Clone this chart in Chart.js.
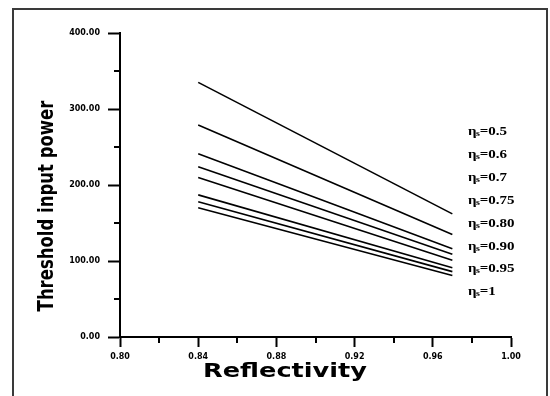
<!DOCTYPE html>
<html>
<head>
<meta charset="utf-8">
<script src="https://cdn.jsdelivr.net/npm/chart.js@4"></script>
<style>
  html, body { margin: 0; padding: 0; background: #fff; }
  #wrap { position: relative; width: 550px; height: 396px; overflow: hidden; }
  #frame {
    position: absolute; left: 12px; top: 8px; width: 536px; height: 400px;
    border: 2px solid #3a3a3a; box-sizing: border-box;
  }
  canvas { position: absolute; left: 0; top: 0; }
</style>
</head>
<body>
<div id="wrap">
  <div id="frame"></div>
  <canvas id="chart" width="550" height="396"></canvas>
</div>
<script>
// 📊 DATA
const reflectivity = [0.84, 0.97];
const etaLabels = ["0.5", "0.6", "0.7", "0.75", "0.80", "0.90", "0.95", "1"];

const power05 = [335, 162];
const power06 = [279, 135];
const power07 = [241, 116];
const power075 = [224, 109];
const power080 = [210, 101];
const power090 = [187, 91];
const power095 = [178, 86];
const power1 = [170, 81];

const allSeries = [power05, power06, power07, power075, power080, power090, power095, power1];

const yTicks = [0, 100, 200, 300, 400];
const xTicks = [0.80, 0.84, 0.88, 0.92, 0.96, 1.00];

const X_TITLE = "Reflectivity";
const Y_TITLE = "Threshold input power";

// ⚙️ helpers
function isMajorY(v) {
    return yTicks.includes(v);
}
function isMajorX(v) {
    return xTicks.some(t => Math.abs(t - v) < 1e-6);
}

function makeLine(values, i) {
    return {
        label: "ηs=" + etaLabels[i],
        data: values.map((v, k) => ({ x: reflectivity[k], y: v })),
        borderColor: "#000",
        borderWidth: 1.6,
        pointRadius: 0,
        tension: 0,
        fill: false
    };
}

// 🖊️ stretched text (reference is horizontally stretched)
function stretchedText(ctx, text, x, y, font, sx, align) {
    ctx.save();
    ctx.translate(x, y);
    ctx.scale(sx, 1);
    ctx.font = font;
    ctx.textAlign = align || "center";
    ctx.textBaseline = "middle";
    ctx.fillStyle = "#000";
    ctx.fillText(text, 0, 0);
    ctx.restore();
}

const decorPlugin = {
    id: "decor",
    afterDraw(chart) {
        const ctx = chart.ctx;
        const xs = chart.scales.x;
        const ys = chart.scales.y;
        const area = chart.chartArea;

        // minor ticks
        ctx.save();
        ctx.strokeStyle = "#000";
        ctx.lineWidth = 2;
        ys.ticks.forEach(t => {
            if (isMajorY(t.value)) return;
            const py = Math.round(ys.getPixelForValue(t.value));
            ctx.beginPath();
            ctx.moveTo(area.left - 6, py);
            ctx.lineTo(area.left, py);
            ctx.stroke();
        });
        xs.ticks.forEach(t => {
            if (isMajorX(t.value)) return;
            const px = Math.round(xs.getPixelForValue(t.value));
            ctx.beginPath();
            ctx.moveTo(px, area.bottom);
            ctx.lineTo(px, area.bottom + 6);
            ctx.stroke();
        });
        ctx.restore();

        // axis titles
        stretchedText(ctx, X_TITLE, 285, 372, "bold 20px 'DejaVu Sans'", 1.28);

        ctx.save();
        ctx.translate(48, 206);
        ctx.rotate(-Math.PI / 2);
        ctx.scale(1, 1.25);
        ctx.font = "bold 16.5px 'DejaVu Sans'";
        ctx.textAlign = "center";
        ctx.textBaseline = "middle";
        ctx.fillStyle = "#000";
        ctx.fillText(Y_TITLE, 0, 0);
        ctx.restore();

        // series labels at right
        etaLabels.forEach((lab, i) => {
            const y = 132 + i * 22.9;
            const x = 468;
            ctx.save();
            ctx.translate(x, y);
            ctx.scale(1.25, 1);
            ctx.fillStyle = "#000";
            ctx.textBaseline = "middle";
            ctx.textAlign = "left";
            ctx.font = "bold 12px 'Liberation Serif'";
            ctx.fillText("η", 0, 0);
            let w = ctx.measureText("η").width;
            ctx.font = "bold 8px 'Liberation Serif'";
            ctx.fillText("s", w - 0.5, 2);
            w += ctx.measureText("s").width;
            ctx.font = "bold 12px 'Liberation Serif'";
            ctx.fillText("=" + lab, w - 0.5, 0);
            ctx.restore();
        });
    }
};

// 🚀 START
window.onload = () => {
    const ctx = document.getElementById("chart").getContext("2d");

    new Chart(ctx, {
        type: "line",
        data: {
            datasets: allSeries.map(makeLine)
        },
        options: {
            responsive: false,
            animation: false,
            devicePixelRatio: 1,
            layout: {
                padding: { top: 33, right: 39, left: 0, bottom: 0 }
            },
            plugins: {
                legend: { display: false },
                tooltip: { enabled: false }
            },
            scales: {
                x: {
                    type: "linear",
                    min: 0.8,
                    max: 1.0,
                    border: { color: "#000", width: 2 },
                    grid: {
                        drawOnChartArea: false,
                        drawTicks: true,
                        tickLength: 10,
                        tickWidth: 2,
                        tickColor: c => isMajorX(c.tick.value) ? "#000" : "rgba(0,0,0,0)"
                    },
                    ticks: {
                        stepSize: 0.02,
                        padding: 5,
                        maxRotation: 0,
                        autoSkip: false,
                        color: "#000",
                        font: { family: "DejaVu Sans", size: 8, weight: "bold" },
                        callback: v => isMajorX(v) ? v.toFixed(2) : ""
                    },
                    afterFit: s => { s.height = 59; }
                },
                y: {
                    min: 0,
                    max: 400,
                    border: { color: "#000", width: 2 },
                    grid: {
                        drawOnChartArea: false,
                        drawTicks: true,
                        tickLength: 12,
                        tickWidth: 2,
                        tickColor: c => isMajorY(c.tick.value) ? "#000" : "rgba(0,0,0,0)"
                    },
                    ticks: {
                        stepSize: 50,
                        padding: 8,
                        autoSkip: false,
                        color: "#000",
                        font: { family: "DejaVu Sans", size: 8, weight: "bold" },
                        callback: v => isMajorY(v) ? v.toFixed(2) : ""
                    },
                    afterFit: s => { s.width = 120; }
                }
            }
        },
        plugins: [decorPlugin]
    });
};
</script>
</body>
</html>
